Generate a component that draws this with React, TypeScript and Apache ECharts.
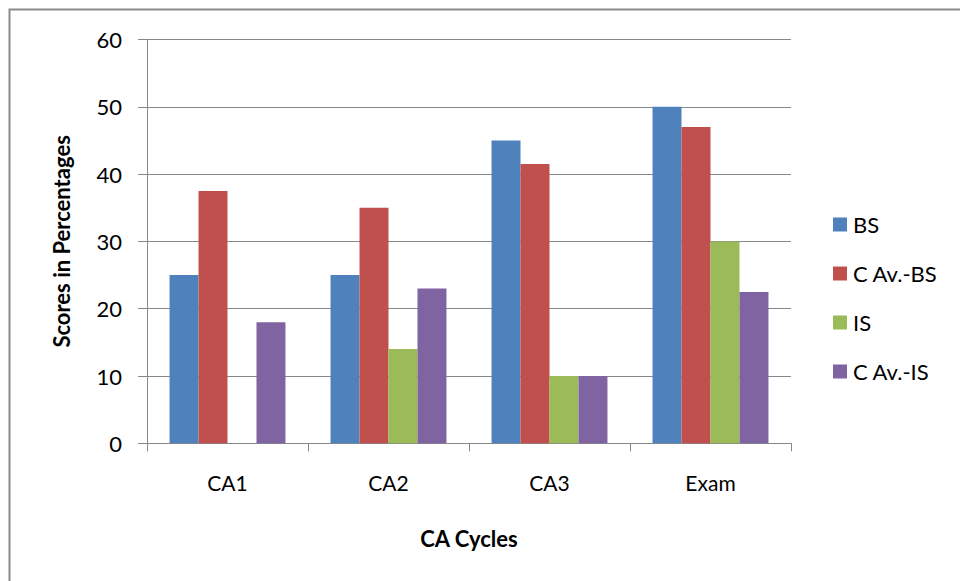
import React, { useEffect, useRef } from "react";
import * as echarts from "echarts";

const categories = ["CA1", "CA2", "CA3", "Exam"];
const seriesNames = ["BS", "C Av.-BS", "IS", "C Av.-IS"];
const bsValues = [25, 25, 45, 50];
const cavBsValues = [37.5, 35, 41.5, 47];
const isValues = [null, 14, 10, 30];
const cavIsValues = [18, 23, 10, 22.5];
const colors = ["#4F81BD", "#C0504D", "#9BBB59", "#8064A2"];
const yTicks = [0, 10, 20, 30, 40, 50, 60];

const FONT = "Lato, 'Open Sans', sans-serif";

export default function App() {
  const ref = useRef<HTMLDivElement>(null);
  useEffect(() => {
    if (!ref.current) return;
    const chart = echarts.init(ref.current, null, { renderer: "svg" });
    const data = [bsValues, cavBsValues, isValues, cavIsValues];
    chart.setOption({
      animation: false,
      backgroundColor: "#ffffff",
      textStyle: { fontFamily: FONT },
      graphic: [
        {
          type: "rect",
          shape: { x: 9.5, y: 9.5, width: 1000, height: 700 },
          style: { fill: "none", stroke: "#8a8a8a", lineWidth: 2 },
          silent: true,
        },
      ],
      grid: { left: 147, right: 169, top: 39.5, bottom: 137.7, containLabel: false },
      legend: {
        orient: "vertical",
        left: 833,
        top: 213.5,
        padding: 0,
        itemWidth: 14,
        itemHeight: 14,
        itemGap: 27,
        icon: "rect",
        textStyle: { fontFamily: FONT, fontSize: 22, color: "#000", lineHeight: 14, padding: [0, 0, 0, 1] },
        data: seriesNames,
      },
      xAxis: {
        type: "category",
        data: categories,
        name: "CA Cycles",
        nameLocation: "middle",
        nameGap: 84,
        nameTextStyle: { fontFamily: FONT, fontSize: 22, fontWeight: "bold", color: "#000" },
        axisLine: { lineStyle: { color: "#888", width: 1 } },
        axisTick: { show: true, length: 8, lineStyle: { color: "#888" } },
        axisLabel: { fontFamily: FONT, fontSize: 21, color: "#000", margin: 29 },
        splitLine: { show: false },
      },
      yAxis: {
        type: "value",
        min: yTicks[0],
        max: yTicks[yTicks.length - 1],
        interval: 10,
        name: "Scores in Percentages",
        nameLocation: "middle",
        nameGap: 75,
        nameRotate: 90,
        nameTextStyle: { fontFamily: FONT, fontSize: 22, fontWeight: "bold", color: "#000" },
        axisLine: { show: true, lineStyle: { color: "#888", width: 1 } },
        axisTick: { show: true, length: 9, lineStyle: { color: "#888" } },
        axisLabel: { fontFamily: FONT, fontSize: 22, color: "#000", margin: 25 },
        splitLine: { show: true, lineStyle: { color: "#888", width: 1 } },
      },
      series: seriesNames.map((name, i) => ({
        name,
        type: "bar",
        data: data[i],
        itemStyle: { color: colors[i] },
        barGap: "0%",
        barCategoryGap: "28%",
      })),
    });
    return () => chart.dispose();
  }, []);
  return (
    <div
      ref={ref}
      style={{ position: "fixed", left: 0, top: 0, width: 960, height: 581 }}
    />
  );
}
